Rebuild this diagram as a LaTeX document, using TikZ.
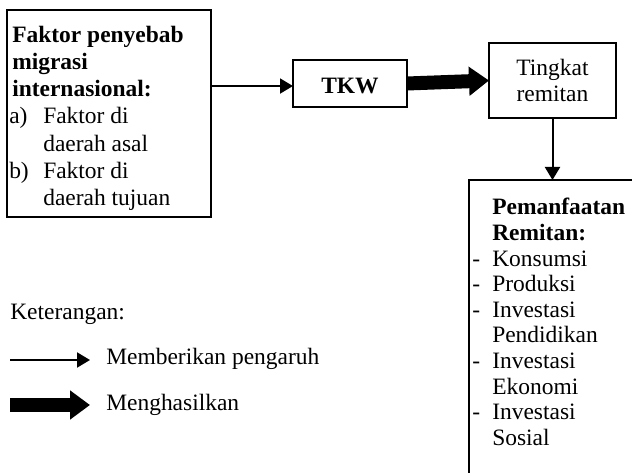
\documentclass[tikz,border=0pt]{standalone}
\usepackage{fontspec}
\setmainfont{Liberation Serif}
\usetikzlibrary{arrows.meta}
\begin{document}
\begin{tikzpicture}[x=0.75pt,y=-0.75pt,
  box/.style={draw,line width=1.5pt,inner sep=0pt,outer sep=0pt},
  txt/.style={anchor=base west,inner sep=0pt,font=\fontsize{17.6pt}{20pt}\selectfont},
  btxt/.style={txt,font=\fontsize{17.6pt}{20pt}\selectfont\bfseries},
  ctxt/.style={anchor=base,inner sep=0pt,font=\fontsize{17.6pt}{20pt}\selectfont},
  thinarrow/.style={line width=1.5pt,-{Triangle[length=9.75pt,width=11.25pt]}},
  fatarrow/.style={line width=10.5pt,-{Triangle[length=15pt,width=21pt]}}]
\useasboundingbox (0,0) rectangle (632,473);
\clip (0,0) rectangle (632,473);
% boxes
\node[box,minimum width=153pt,minimum height=155.25pt] (faktor) at (109,113.5) {};
\node[box,minimum width=85.5pt,minimum height=35.25pt] (tkw) at (350,83.5) {};
\node[box,minimum width=95.25pt,minimum height=56.25pt] (ting) at (552.5,80.5) {};
\node[box,minimum width=128.25pt,minimum height=232.5pt] (pem) at (554.5,335) {};
% box 1 text
\node[btxt] (f1) at (12,43) {Faktor penyebab};
\node[btxt] (f2) at (12,70) {migrasi};
\node[btxt] (f3) at (12,97) {internasional:};
\node[txt] (fa) at (9,124) {a)};
\node[txt] (f4) at (43,124) {Faktor di};
\node[txt] (f5) at (43,152) {daerah asal};
\node[txt] (fb) at (9,179) {b)};
\node[txt] (f6) at (43,179) {Faktor di};
\node[txt] (f7) at (43,206) {daerah tujuan};
% TKW
\node[ctxt,font=\fontsize{17.6pt}{20pt}\selectfont\bfseries] (tkwt) at (350,94) {TKW};
% Tingkat remitan
\node[ctxt] (t1) at (552.5,76) {Tingkat};
\node[ctxt] (t2) at (552.5,102) {remitan};
% Pemanfaatan
\node[btxt] (p1) at (492,215) {Pemanfaatan};
\node[btxt] (p2) at (492,240.6) {Remitan:};
\foreach \y/\t [count=\i] in {266.2/Konsumsi,291.8/Produksi,317.4/Investasi,343/Pendidikan,368.6/Investasi,394.2/Ekonomi,419.8/Investasi,445.4/Sosial}{
  \node[txt] (pl\i) at (492,\y) {\t};
}
\foreach \y [count=\i] in {266.2,291.8,317.4,368.6,419.8}{
  \node[txt] (pd\i) at (472,\y) {-};
}
% connectors
\coordinate (a1s) at ([yshift=-1.9pt]faktor.east |- tkw.west);
\coordinate (a1e) at ([yshift=-1.9pt]tkw.west);
\draw[thinarrow] (a1s) -- (a1e);
\draw[fatarrow] (tkw.east) -- (ting.west);
\draw[thinarrow] (ting.south) -- (ting.south |- pem.north);
% legend
\node[txt] (ket) at (10,320) {Keterangan:};
\coordinate (l1a) at (10,360);
\coordinate (l1b) at (90,360);
\coordinate (l2a) at (10,405);
\coordinate (l2b) at (90,405);
\draw[thinarrow] (l1a) -- (l1b);
\draw[fatarrow] (l2a) -- (l2b);
\node[txt] (m1) at (106,365) {Memberikan pengaruh};
\node[txt] (m2) at (106,411) {Menghasilkan};
\end{tikzpicture}
\end{document}
